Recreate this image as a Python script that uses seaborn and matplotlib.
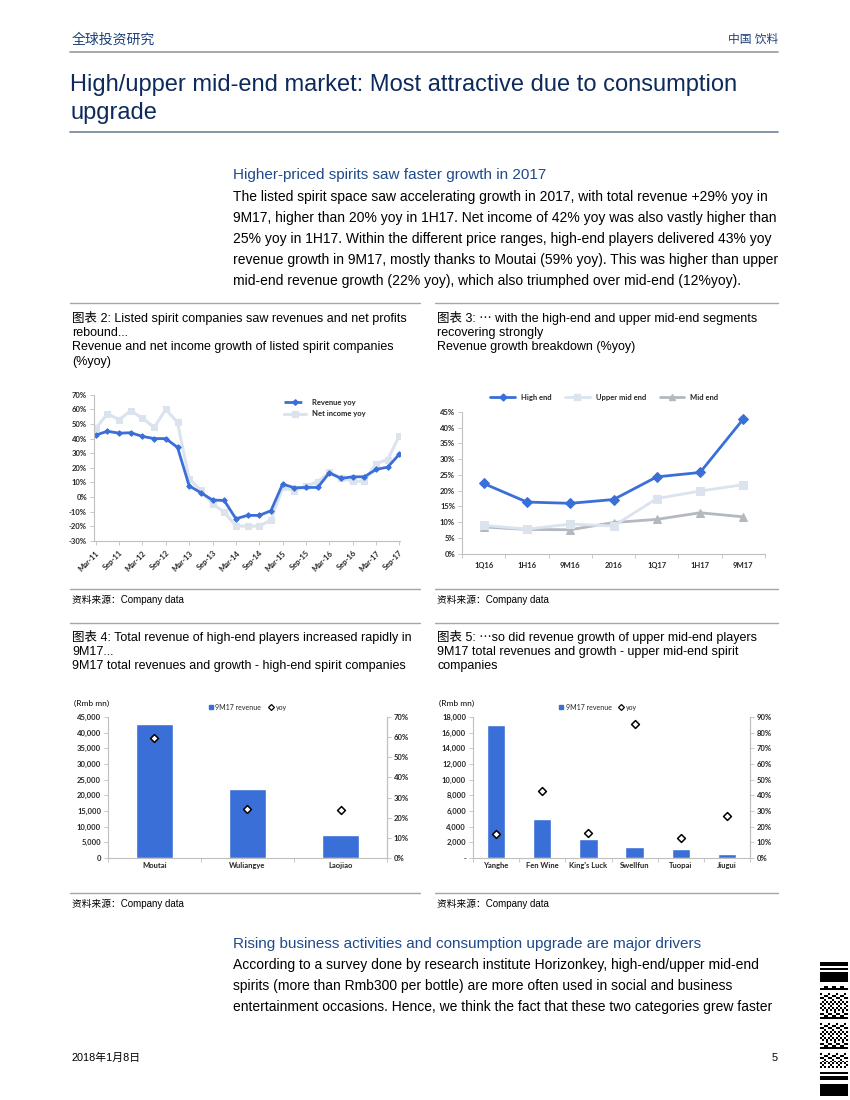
import numpy as np
import pandas as pd
import matplotlib
matplotlib.use('Agg')
import matplotlib.pyplot as plt
import seaborn as sns
from matplotlib.lines import Line2D

sns.set_theme(style='white')
plt.rcParams['font.family'] = ['Liberation Sans', 'Noto Sans CJK SC', 'DejaVu Sans']

# ---- data ----
quarter_ticks = ['Mar-11', 'Sep-11', 'Mar-12', 'Sep-12', 'Mar-13', 'Sep-13', 'Mar-14',
                 'Sep-14', 'Mar-15', 'Sep-15', 'Mar-16', 'Sep-16', 'Mar-17', 'Sep-17']
revenue_yoy = [42.4, 45.0, 43.7, 44.0, 41.5, 40.0, 40.0, 34.0, 7.7, 3.0, -2.0, -2.3, -14.8, -12.5,
               -12.5, -9.3, 8.9, 6.4, 6.6, 6.6, 16.6, 12.8, 13.9, 13.9, 18.9, 20.5, 29.4]
net_income_yoy = [46.9, 57.0, 53.0, 59.0, 54.0, 47.6, 60.0, 51.0, 12.3, 4.8, -4.8, -10.2, -19.8, -19.8,
                  -19.8, -15.7, 6.6, 4.3, 7.5, 10.5, 16.9, 13.2, 10.7, 11.0, 22.8, 25.7, 42.1]

periods = ['1Q16', '1H16', '9M16', '2016', '1Q17', '1H17', '9M17']
high_end = [22.3, 16.4, 16.0, 17.2, 24.4, 25.8, 42.8]
upper_mid_end = [9.0, 7.8, 9.4, 8.8, 17.5, 19.9, 21.9]
mid_end = [8.5, 7.7, 7.6, 9.9, 10.9, 13.0, 11.7]

high_cos = ['Moutai', 'Wuliangye', 'Laojiao']
high_rev = [42660, 22080, 7230]
high_yoy = [59.4, 24.2, 23.7]

upper_cos = ['Yanghe', 'Fen Wine', "King's Luck", 'Swellfun', 'Tuopai', 'Jiugui']
upper_rev = [16930, 4930, 2440, 1450, 1200, 550]
upper_yoy = [15.2, 43.0, 16.2, 85.3, 13.0, 27.0]

BLUE = '#3a6fd8'
LIGHT = '#dbe3ee'
GREY = '#b3b9bf'
AXG = '#bfbfbf'
NAVY = '#0d2a5c'
SUB = '#1f4a8a'

W, H = 850, 1100
fig = plt.figure(figsize=(8.5, 11), dpi=100)


def box(l, t, r, b):
    return [l / W, 1 - b / H, (r - l) / W, (b - t) / H]


def txt(x, y, s, size, color='#000000', ha='left', **kw):
    fig.text(x / W, 1 - y / H, s, fontsize=size, color=color, ha=ha, va='center', **kw)


def hline(y, x0, x1, color='#a6a6a6', lw=1.0):
    fig.add_artist(Line2D([x0 / W, x1 / W], [1 - y / H, 1 - y / H], color=color, lw=lw))


def style_axes(ax, right=False):
    sns.despine(ax=ax, top=True, right=not right)
    for s in ['left', 'bottom', 'right']:
        ax.spines[s].set_color(AXG)
        ax.spines[s].set_linewidth(0.8)
    ax.tick_params(axis='y', left=True, length=3, width=0.6, color=AXG, pad=2, labelsize=5.5)
    ax.tick_params(axis='x', length=0, pad=3, labelsize=5.5)
    for lab in ax.get_yticklabels() + ax.get_xticklabels():
        lab.set_fontweight('bold')
        lab.set_family(['Lato', 'DejaVu Sans'])
    ax.set_xlabel('')
    ax.set_ylabel('')
    ax.grid(False)


# ---- page text ----
txt(72, 40, '全球投资研究', 10, color='#1c3f7a')
txt(778, 40, '中国 饮料', 8.5, color='#1c3f7a', ha='right')
hline(52, 70, 778, color='#9a9a9a', lw=1.2)
txt(70, 85, 'High/upper mid-end market: Most attractive due to consumption', 17, color=NAVY)
txt(70, 113, 'upgrade', 17, color=NAVY)
hline(132, 70, 778, color='#7d8ca5', lw=1.3)

txt(233, 175, 'Higher-priced spirits saw faster growth in 2017', 11, color=SUB)
body1 = ['The listed spirit space saw accelerating growth in 2017, with total revenue +29% yoy in',
         '9M17, higher than 20% yoy in 1H17. Net income of 42% yoy was also vastly higher than',
         '25% yoy in 1H17. Within the different price ranges, high-end players delivered 43% yoy',
         'revenue growth in 9M17, mostly thanks to Moutai (59% yoy). This was higher than upper',
         'mid-end revenue growth (22% yoy), which also triumphed over mid-end (12%yoy).']
for i, line in enumerate(body1):
    txt(233, 197 + 21 * i, line, 10)

for x0, x1 in [(70, 420), (435, 778)]:
    for y in [303, 589, 623, 893]:
        hline(y, x0, x1)

cap2 = ['图表 2: Listed spirit companies saw revenues and net profits', 'rebound...',
        'Revenue and net income growth of listed spirit companies', '(%yoy)']
cap3 = ['图表 3: ⋯ with the high-end and upper mid-end segments', 'recovering strongly',
        'Revenue growth breakdown (%yoy)']
cap4 = ['图表 4: Total revenue of high-end players increased rapidly in', '9M17...',
        '9M17 total revenues and growth - high-end spirit companies']
cap5 = ['图表 5: ⋯so did revenue growth of upper mid-end players',
        '9M17 total revenues and growth - upper mid-end spirit', 'companies']
for i, s in enumerate(cap2):
    txt(72, 318 + 14.7 * i, s, 9)
for i, s in enumerate(cap3):
    txt(437, 318 + 14.7 * i, s, 9)
for i, s in enumerate(cap4):
    txt(72, 637 + 14.7 * i, s, 9)
for i, s in enumerate(cap5):
    txt(437, 637 + 14.7 * i, s, 9)

for x in [72, 437]:
    txt(x, 600, '资料来源：Company data', 7)
    txt(x, 904, '资料来源：Company data', 7)

txt(233, 944, 'Rising business activities and consumption upgrade are major drivers', 11, color=SUB)
body2 = ['According to a survey done by research institute Horizonkey, high-end/upper mid-end',
         'spirits (more than Rmb300 per bottle) are more often used in social and business',
         'entertainment occasions. Hence, we think the fact that these two categories grew faster']
for i, line in enumerate(body2):
    txt(233, 965 + 21 * i, line, 10)

txt(72, 1058, '2018年1月8日', 7.8)
txt(778, 1058, '5', 7.8, ha='right')

# ---- chart 2: revenue / net income yoy ----
ax1 = fig.add_axes(box(94, 394.7, 400, 541))
idx = np.arange(len(revenue_yoy))
sns.lineplot(x=idx, y=net_income_yoy, color=LIGHT, lw=2.2, marker='s', markersize=5,
             markeredgecolor=LIGHT, ax=ax1)
sns.lineplot(x=idx, y=revenue_yoy, color=BLUE, lw=2.0, marker='D', markersize=2.8,
             markeredgecolor=BLUE, ax=ax1)
ax1.set_ylim(-30, 70)
ax1.set_yticks(range(-30, 80, 10))
ax1.set_yticklabels([f'{v}%' for v in range(-30, 80, 10)])
ax1.set_xlim(-0.15, 26.05)
ax1.set_xticks(idx[::2])
ax1.set_xticklabels(quarter_ticks, rotation=45, ha='right', rotation_mode='anchor')
style_axes(ax1)
ax1.tick_params(axis='x', bottom=True, length=3, width=0.6, color=AXG)
h1 = [Line2D([], [], color=BLUE, lw=2, marker='D', markersize=2.8, linestyle='-.'),
      Line2D([], [], color=LIGHT, lw=2.2, marker='s', markersize=5)]
ax1.legend(h1, ['Revenue yoy', 'Net income yoy'], loc='upper left', bbox_to_anchor=(0.6, 1.02),
           frameon=False, prop=dict(size=5.5, weight='bold', family=['Lato', 'DejaVu Sans']),
           handlelength=2.8, labelspacing=0.6)

# ---- chart 3: revenue growth breakdown ----
ax2 = fig.add_axes(box(462, 412, 765, 553.7))
pos = np.arange(len(periods))
sns.lineplot(x=pos, y=mid_end, color=GREY, lw=2.0, marker='^', markersize=6,
             markeredgecolor=GREY, ax=ax2)
sns.lineplot(x=pos, y=upper_mid_end, color=LIGHT, lw=2.0, marker='s', markersize=6,
             markeredgecolor=LIGHT, ax=ax2)
sns.lineplot(x=pos, y=high_end, color=BLUE, lw=2.0, marker='D', markersize=5,
             markeredgecolor=BLUE, ax=ax2)
ax2.set_ylim(0, 45)
ax2.set_yticks(range(0, 50, 5))
ax2.set_yticklabels([f'{v}%' for v in range(0, 50, 5)])
ax2.set_xlim(-0.5, len(periods) - 0.5)
ax2.set_xticks(pos)
ax2.set_xticklabels(periods)
style_axes(ax2)
ax2.set_xticks(np.arange(-0.5, len(periods)), minor=True)
ax2.tick_params(axis='x', which='minor', bottom=True, length=3, width=0.6, color=AXG)
ax2.tick_params(axis='x', pad=6)
h2 = [Line2D([], [], color=BLUE, lw=2, marker='D', markersize=3.5),
      Line2D([], [], color=LIGHT, lw=2, marker='s', markersize=4),
      Line2D([], [], color=GREY, lw=2, marker='^', markersize=4)]
ax2.legend(h2, ['High end', 'Upper mid end', 'Mid end'], loc='lower center',
           bbox_to_anchor=(0.47, 1.03), ncol=3, frameon=False, handlelength=3.2,
           columnspacing=1.8, prop=dict(size=5.5, weight='bold', family=['Lato', 'DejaVu Sans']))


def bar_combo(rect, cos, rev, yoy, lmax, lstep, rmax, zero_label, leg_x):
    ax = fig.add_axes(box(*rect))
    sns.barplot(x=cos, y=rev, color=BLUE, saturation=1, width=0.4, ax=ax)
    ax.set_ylim(0, lmax)
    ticks = list(range(0, lmax + 1, lstep))
    ax.set_yticks(ticks)
    ax.set_yticklabels([zero_label] + [f'{t:,}' for t in ticks[1:]])
    ax.set_xlim(-0.5, len(cos) - 0.5)
    style_axes(ax, right=True)
    ax.set_xticks(np.arange(-0.5, len(cos)), minor=True)
    ax.tick_params(axis='x', which='minor', bottom=True, length=3, width=0.6, color=AXG)
    axr = ax.twinx()
    sns.scatterplot(x=np.arange(len(cos)), y=yoy, marker='D', s=16, color='white',
                    edgecolor='black', linewidth=1.1, ax=axr, zorder=5)
    axr.set_ylim(0, rmax)
    rt = list(range(0, rmax + 1, 10))
    axr.set_yticks(rt)
    axr.set_yticklabels([f'{v}%' for v in rt])
    axr.set_xlim(-0.5, len(cos) - 0.5)
    for s in ['top', 'left', 'bottom']:
        axr.spines[s].set_visible(False)
    axr.spines['right'].set_color(AXG)
    axr.spines['right'].set_linewidth(0.8)
    axr.tick_params(axis='y', right=True, length=3, width=0.6, color=AXG, pad=2, labelsize=5.5)
    for lab in axr.get_yticklabels():
        lab.set_fontweight('bold')
        lab.set_family(['Lato', 'DejaVu Sans'])
    axr.set_ylabel('')
    axr.grid(False)
    h = [Line2D([], [], color=BLUE, marker='s', markersize=3.5, linestyle=''),
         Line2D([], [], color='black', marker='D', markersize=3, markerfacecolor='white',
                markeredgewidth=0.9, linestyle='')]
    ax.legend(h, ['9M17 revenue', 'yoy'], loc='lower center', bbox_to_anchor=(leg_x, 1.0),
              ncol=2, frameon=False, handlelength=0.8, handletextpad=0.3, columnspacing=1.0,
              prop=dict(size=5, family=['Lato', 'DejaVu Sans']))
    t = rect[1] - 14
    txt(rect[0] - 34, t, '(Rmb mn)', 6, family=['Lato', 'DejaVu Sans'])
    return ax


# ---- chart 4 and 5 ----
bar_combo((108, 717, 387, 858), high_cos, high_rev, high_yoy, 45000, 5000, 70, '0', 0.5)
bar_combo((473, 717, 750, 858), upper_cos, upper_rev, upper_yoy, 18000, 2000, 90, '-', 0.45)

# ---- QR-like code stamp at the bottom right ----
qr = np.ones((70, 14))
qr[2:4, :] = 0
qr[5, :] = 0
qr[7:12, :] = 0
for r in range(14, 56):
    for c in range(14):
        if (r * 7 + c * 5 + (r // 3) * (c % 4)) % 5 < 2:
            qr[r, c] = 0
qr[58, :] = 0
qr[60:62, :] = 0
qr[64:70, :] = 0
axq = fig.add_axes(box(820, 958, 848, 1096))
axq.imshow(qr, cmap='gray', aspect='auto', interpolation='nearest')
axq.axis('off')

fig.savefig('out.png', dpi=100)
